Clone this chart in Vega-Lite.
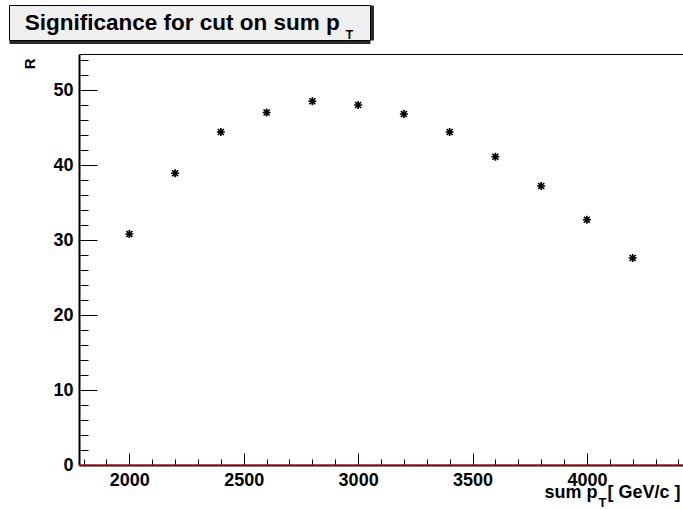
{
  "$schema": "https://vega.github.io/schema/vega-lite/v6.json",
  "padding": {"left": 8, "top": 4, "right": 0, "bottom": 0},
  "background": "white",
  "spacing": 7,
  "config": {"view": {"stroke": null}, "font": "Liberation Sans"},
  "vconcat": [
    {
      "width": 361,
      "height": 35,
      "view": {"fill": "#f0f0f0", "stroke": "black", "strokeWidth": 1},
      "data": {"values": [{"t": "", "v": 0}]},
      "mark": {"type": "text"},
      "encoding": {
        "text": {"field": "t"},
        "x": {"field": "v", "type": "quantitative",
          "axis": {"orient": "bottom", "ticks": false, "labels": false, "grid": false,
            "domain": true, "domainColor": "#2a2a2a", "domainWidth": 3, "offset": 2,
            "minExtent": 0, "maxExtent": 0,
            "title": "Significance for cut on sum p", "titleX": 15.3, "titleY": -13, "titleAlign": "left", "titleBaseline": "alphabetic", "titleAngle": 0,
            "titleFont": "Liberation Sans", "titleFontSize": 22.5, "titleFontWeight": "bold", "titleColor": "black"}},
        "y": {"field": "v", "type": "quantitative",
          "axis": {"orient": "right", "ticks": false, "labels": false, "grid": false,
            "domain": true, "domainColor": "#2a2a2a", "domainWidth": 3, "offset": 2,
            "minExtent": 0, "maxExtent": 0,
            "title": "T", "titleX": -19.3, "titleY": 33, "titleAlign": "right", "titleBaseline": "alphabetic", "titleAngle": 0,
            "titleFont": "Liberation Sans", "titleFontSize": 12, "titleFontWeight": "bold", "titleColor": "black"}}
      }
    },
    {
      "width": 674,
      "height": 411,
      "view": {"stroke": null, "fill": "white"},
      "layer": [
        {
          "data": {"values": [
            {"sumpt": 1780, "sumpt2": 4420, "R": 0}
          ]},
          "mark": {"type": "rule", "color": "#e8202a", "strokeWidth": 1},
          "encoding": {
            "x": {"field": "sumpt", "type": "quantitative",
              "axis": {"orient": "top", "ticks": false, "labels": false, "grid": false,
                "domain": true, "domainColor": "black", "domainWidth": 1,
                "minExtent": 0, "maxExtent": 0,
                "title": "T", "titleX": 597, "titleY": 452, "titleAlign": "right", "titleBaseline": "alphabetic", "titleAngle": 0,
                "titleFont": "Liberation Sans", "titleFontSize": 13, "titleFontWeight": "bold", "titleColor": "black"}},
            "x2": {"field": "sumpt2"},
            "y": {"field": "R", "type": "quantitative",
              "axis": {"orient": "right", "ticks": false, "labels": false, "grid": false,
                "domain": true, "domainColor": "#e8202a", "domainWidth": 1,
                "minExtent": 0, "maxExtent": 0, "title": null}}
          }
        },
        {
          "data": {"values": [
            {"sumpt": 2000, "R": 30.8},
            {"sumpt": 2200, "R": 38.9},
            {"sumpt": 2400, "R": 44.4},
            {"sumpt": 2600, "R": 47.0},
            {"sumpt": 2800, "R": 48.5},
            {"sumpt": 3000, "R": 48.0},
            {"sumpt": 3200, "R": 46.8},
            {"sumpt": 3400, "R": 44.4},
            {"sumpt": 3600, "R": 41.1},
            {"sumpt": 3800, "R": 37.2},
            {"sumpt": 4000, "R": 32.7},
            {"sumpt": 4200, "R": 27.6}
          ]},
          "mark": {"type": "point", "shape": "M-1,0L1,0M0,-1L0,1M-0.75,-0.75L0.75,0.75M-0.75,0.75L0.75,-0.75", "filled": false, "stroke": "black", "strokeWidth": 1.7, "size": 64, "opacity": 1},
          "encoding": {
            "x": {"field": "sumpt", "type": "quantitative",
              "scale": {"domain": [1780, 4420], "range": [70, 674], "nice": false, "zero": false},
              "axis": {
                "orient": "bottom",
                "values": [1800,1900,2000,2100,2200,2300,2400,2500,2600,2700,2800,2900,3000,3100,3200,3300,3400,3500,3600,3700,3800,3900,4000,4100,4200,4300,4400],
                "tickCount": 100,
                "format": "d",
                "labelExpr": "datum.value % 500 === 0 ? datum.label : ''",
                "tickSize": {"condition": {"test": "datum.value % 500 === 0", "value": -12}, "value": -6},
                "tickColor": "black", "tickWidth": 1,
                "domainColor": "black", "domainWidth": 2,
                "grid": false,
                "labelFont": "Liberation Sans", "labelFontWeight": "bold", "labelFontSize": 18, "labelColor": "black",
                "labelPadding": 18, "labelFlush": false, "labelOverlap": false, "labelBound": false,
                "title": "sum p\u00a0\u00a0[ GeV/c ]",
                "titleX": 671, "titleY": 32, "titleAlign": "right", "titleBaseline": "alphabetic", "titleAngle": 0,
                "titleFont": "Liberation Sans", "titleFontSize": 18, "titleFontWeight": "bold", "titleColor": "black"
              }},
            "y": {"field": "R", "type": "quantitative",
              "scale": {"domain": [0, 54.8], "nice": false, "zero": false},
              "axis": {
                "orient": "left",
                "offset": -70,
                "values": [0,2,4,6,8,10,12,14,16,18,20,22,24,26,28,30,32,34,36,38,40,42,44,46,48,50,52,54],
                "tickCount": 100,
                "format": "d",
                "labelExpr": "datum.value % 10 === 0 ? datum.label : ''",
                "tickSize": {"condition": {"test": "datum.value % 10 === 0", "value": -18}, "value": -9},
                "tickColor": "black", "tickWidth": 1,
                "domainColor": "black", "domainWidth": 2,
                "grid": false,
                "labelFont": "Liberation Sans", "labelFontWeight": "bold", "labelFontSize": 18, "labelColor": "black",
                "labelPadding": 24, "labelFlush": false, "labelOverlap": false, "labelBound": false,
                "minExtent": 0,
                "title": "R",
                "titleX": -45, "titleY": 4, "titleAngle": -90, "titleAlign": "right", "titleBaseline": "alphabetic",
                "titleFont": "Liberation Sans", "titleFontSize": 15, "titleFontWeight": "bold", "titleColor": "black"
              }}
          }
        }
      ],
      "resolve": {"axis": {"x": "independent", "y": "independent"}}
    }
  ]
}
